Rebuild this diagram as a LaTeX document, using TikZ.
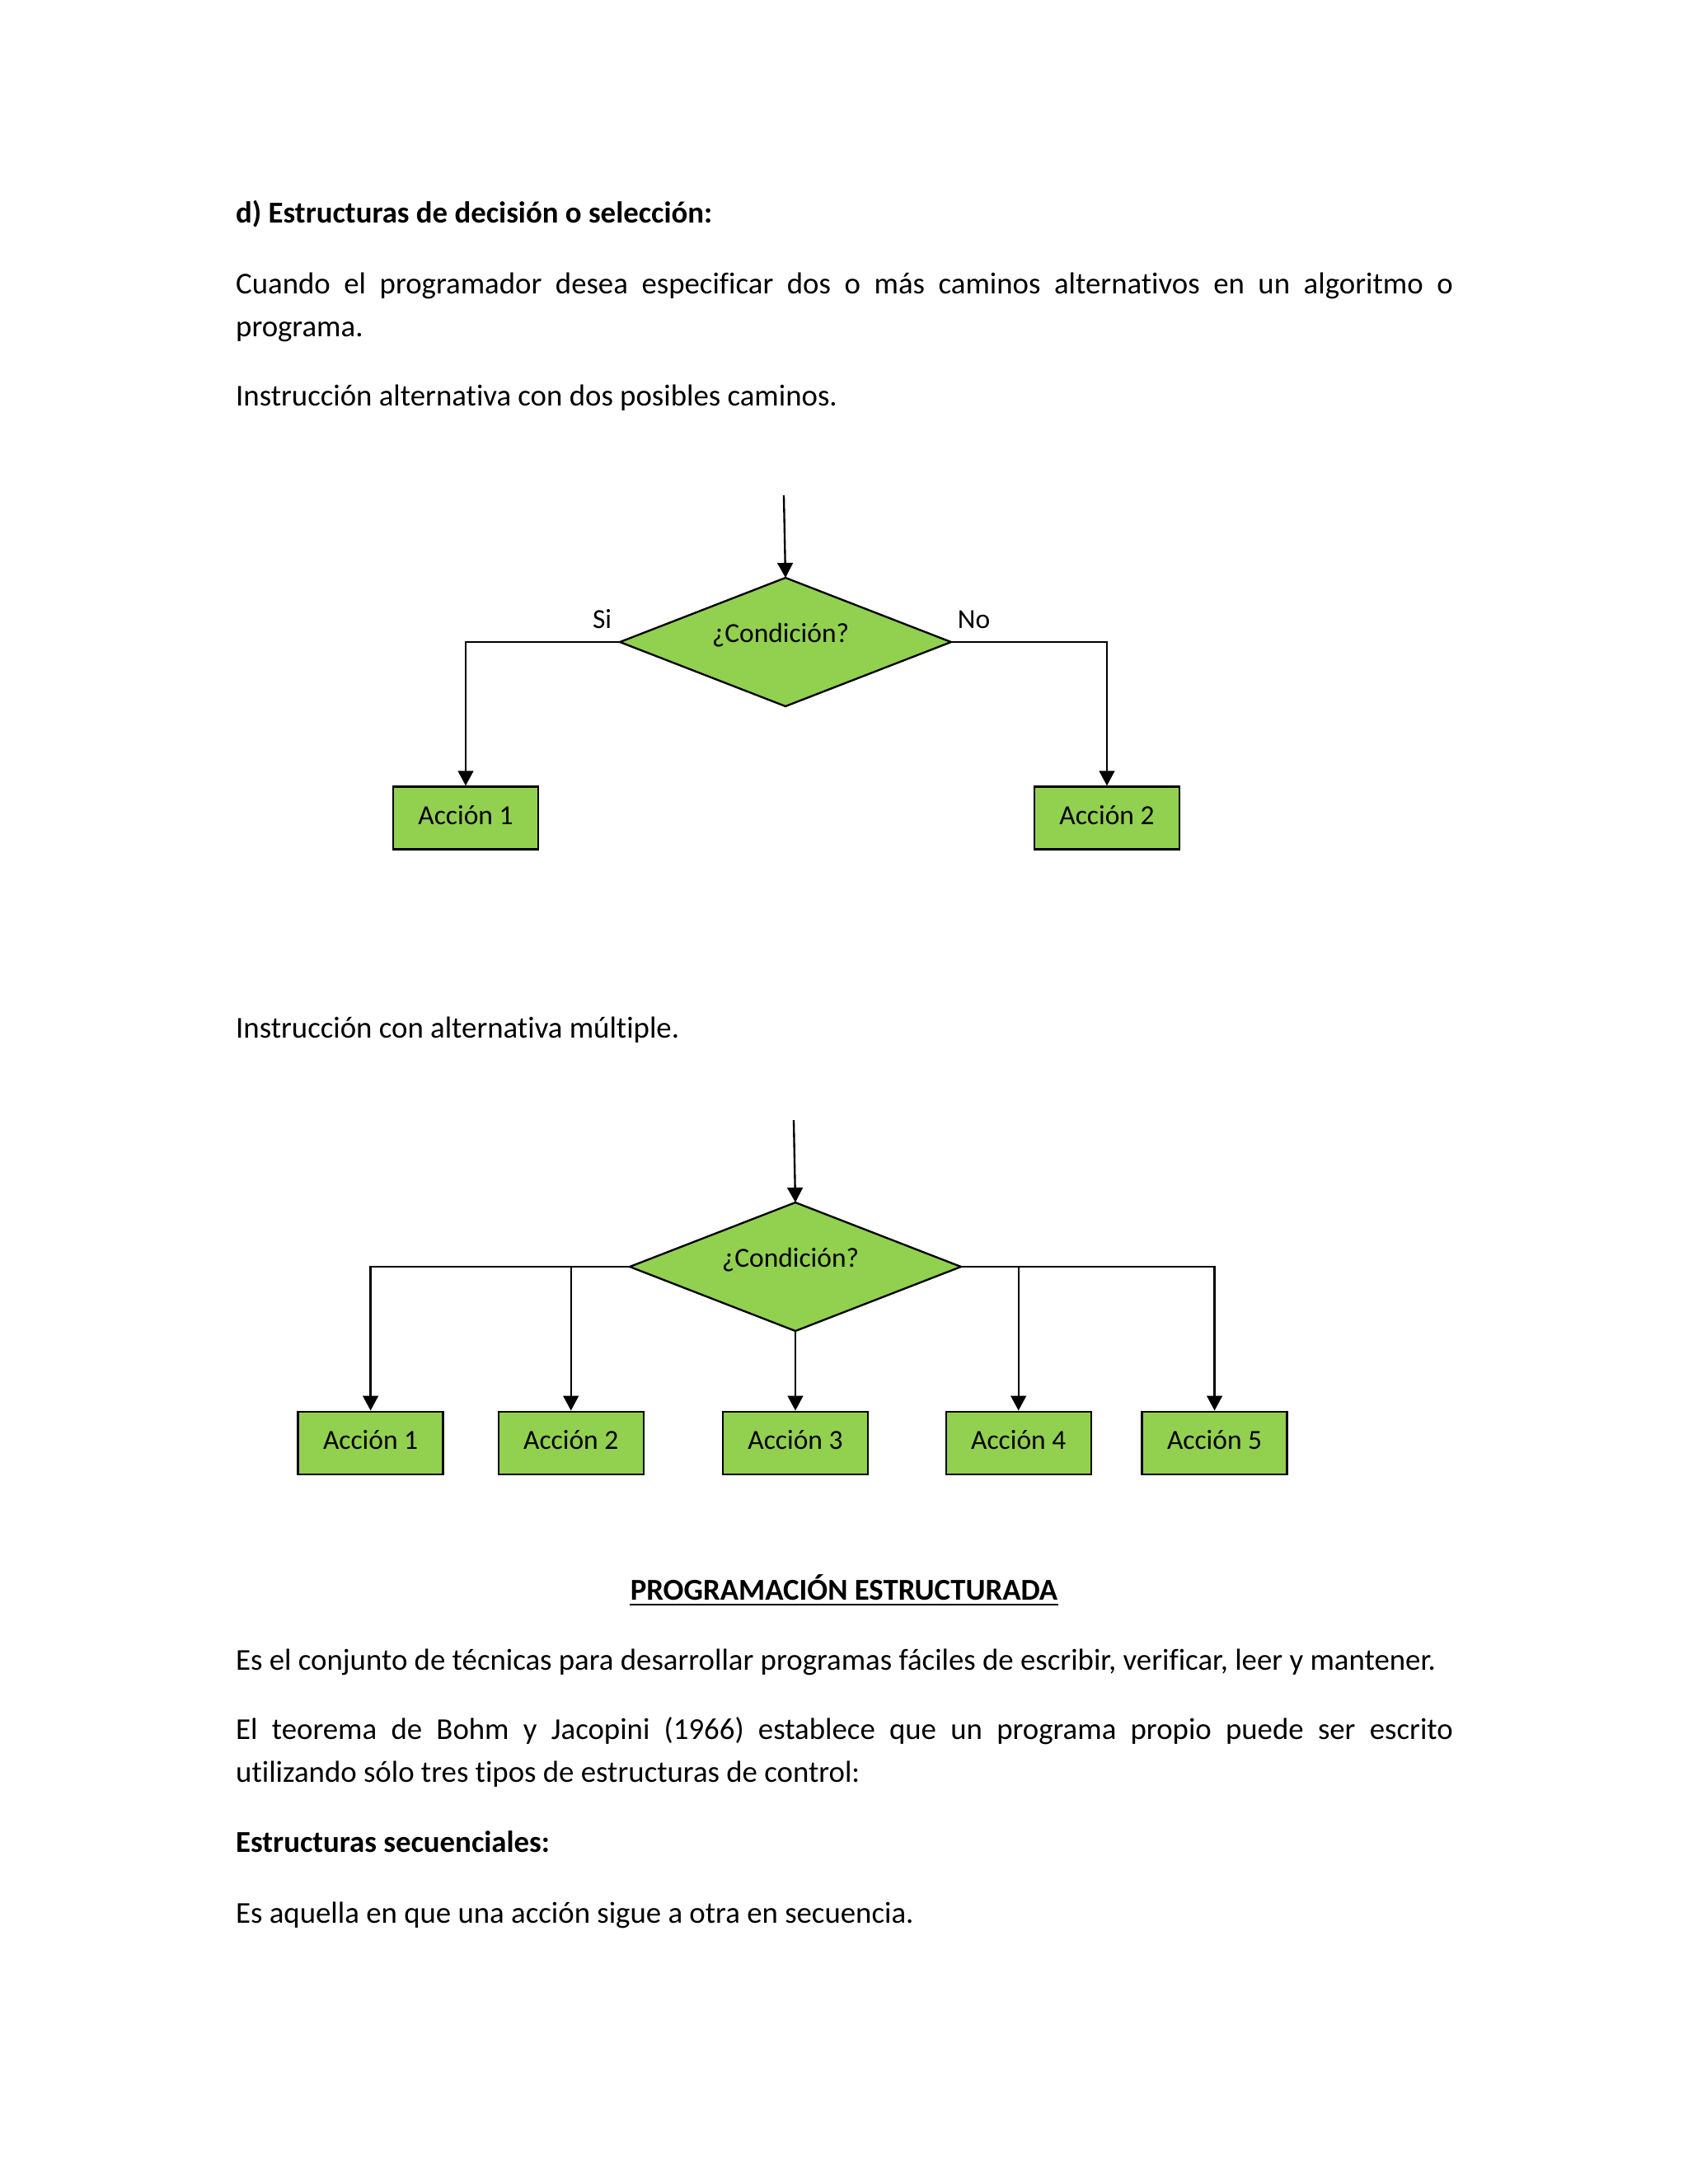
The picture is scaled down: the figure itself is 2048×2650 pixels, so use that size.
\documentclass[tikz,border=0pt]{standalone}
\usepackage{fontspec}
\setmainfont{Carlito}[Ligatures=NoCommon]
\usetikzlibrary{shapes.geometric,arrows.meta}
\definecolor{verde}{HTML}{92D050}
\tikzset{
  txt/.style={anchor=base west,inner sep=0pt,font=\fontsize{11}{13.2}\selectfont},
  txtb/.style={txt,font=\fontsize{11}{13.2}\selectfont\bfseries},
  accion/.style={draw,fill=verde,minimum width=52.6pt,minimum height=22.7pt,inner sep=0pt,
    text height=4.9pt,text depth=0pt,font=\fontsize{10}{12}\selectfont},
  cond/.style={draw,fill=verde,diamond,minimum width=120.1pt,minimum height=46.6pt,inner sep=0pt,outer sep=0pt},
  etq/.style={anchor=base,inner sep=0pt,font=\fontsize{10}{12}\selectfont}
}
\begin{document}
\begin{tikzpicture}[x=0.29883pt, y=-0.29883pt, line width=0.7pt, >={Triangle[length=5.4pt,width=5.6pt]}]
    \useasboundingbox[fill=white] (0,0) rectangle (2048,2650);

    \node[txtb] (tit1) at (285,270.7) {d) Estructuras de decisión o selección:};
    \node[txt] (p1a) at (285,356) {\makebox[441.3pt][s]{Cuando el programador desea especificar dos o más caminos alternativos en un algoritmo o}};
    \node[txt] (p1b) at (285,408) {programa.};
    \node[txt] (p2) at (285,492.7) {Instrucción alternativa con dos posibles caminos.};

    \coordinate (e1) at (951,601);
    \node[cond] (c1) at (953,779) {};
    \node[etq] (c1t) at (947,779) {¿Condición?};
    \node[accion] (a1) at (565,992.5) {Acción 1};
    \node[accion] (a2) at (1343,992.5) {Acción 2};
    \node[etq] (si) at (730.6,762.7) {Si};
    \node[etq] (no) at (1181.5,762.7) {No};
    \draw [->] (e1) -- (c1.north);
    \draw [->] (c1.west) -| (a1.north);
    \draw [->] (c1.east) -| (a2.north);

    \node[txt] (p3) at (285,1259.5) {Instrucción con alternativa múltiple.};

    \coordinate (e2) at (963,1359);
    \node[cond] (c2) at (965,1537) {};
    \node[etq] (c2t) at (959,1537) {¿Condición?};
    \foreach \n/\x in {1/449.6,2/692.7,3/965,4/1235.7,5/1473.6}
    {
        \node[accion] (m\n) at (\x,1750.7) {Acción \n};
    }
    \draw [->] (e2) -- (c2.north);
    \draw [->] (c2.west) -| (m1.north);
    \draw [->] (m2.north |- c2.west) -- (m2.north);
    \draw [->] (c2.south) -- (m3.north);
    \draw [->] (m4.north |- c2.east) -- (m4.north);
    \draw [->] (c2.east) -| (m5.north);

    \node[txtb,anchor=base] (tit2) at (1024,1941) {PROGRAMACIÓN ESTRUCTURADA};
    \draw [line width=0.6pt] ([yshift=-1.8pt]tit2.base west) -- ([yshift=-1.8pt]tit2.base east);
    \node[txt] (p4) at (285,2026.7) {Es el conjunto de técnicas para desarrollar programas fáciles de escribir, verificar, leer y mantener.};
    \node[txt] (p5a) at (285,2110) {\makebox[441.3pt][s]{El teorema de Bohm y Jacopini (1966) establece que un programa propio puede ser escrito}};
    \node[txt] (p5b) at (285,2162.7) {utilizando sólo tres tipos de estructuras de control:};
    \node[txtb] (tit3) at (285,2247.7) {Estructuras secuenciales:};
    \node[txt] (p6) at (285,2333.3) {Es aquella en que una acción sigue a otra en secuencia.};
\end{tikzpicture}
\end{document}
